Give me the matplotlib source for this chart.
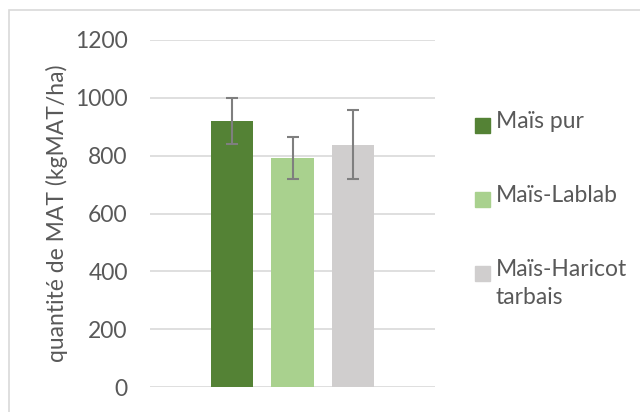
import numpy as np
import matplotlib.pyplot as plt
from matplotlib.patches import Rectangle

categories = ['Maïs pur', 'Maïs-Lablab', 'Maïs-Haricot\ntarbais']
values = [920, 793, 838]
errors = [80, 72, 120]
colors = ['#548235', '#A9D18E', '#D0CECE']
yticks = [0, 200, 400, 600, 800, 1000, 1200]

W, H = 640, 412
txt = '#595959'
fs = 16.5
plt.rcParams['font.family'] = ['Lato', 'DejaVu Sans']

fig = plt.figure(figsize=(W / 100, H / 100), dpi=100)

# outer chart frame
fig.patches.append(Rectangle((9 / W, -0.1), 1.1, 1 - 10 / H + 0.1, transform=fig.transFigure,
                             fill=False, edgecolor='#D9D9D9', linewidth=1.2))

ax = fig.add_axes([150 / W, 1 - 387 / H, 285 / W, (387 - 40) / H])
x = np.arange(len(categories))
ax.bar(x, values, width=0.7, color=colors, zorder=2)
ax.errorbar(x, values, yerr=errors, fmt='none', ecolor='#7F7F7F', elinewidth=1.5,
            capsize=4.3, capthick=1.5, zorder=3)

ax.set_xlim(-1.355, 3.355)
ax.set_ylim(0, 1200)
ax.set_yticks(yticks)
ax.set_xticks([])
ax.yaxis.grid(True, color='#D9D9D9', linewidth=1.2, zorder=0)
ax.set_axisbelow(True)
for s in ax.spines.values():
    s.set_visible(False)
ax.tick_params(axis='y', length=0, pad=16, labelsize=fs, labelcolor=txt)
ax.set_ylabel('quantité de MAT (kgMAT/ha)', fontsize=fs, color=txt, labelpad=5)

# legend drawn at the right
sq_top = [117.5, 191.5, 265.5]
for c, lab, t in zip(colors, categories, sq_top):
    fig.patches.append(Rectangle((475 / W, 1 - (t + 15) / H), 15 / W, 15 / H,
                                 transform=fig.transFigure, color=c))
    fig.text(496 / W, 1 - (t - 7) / H, lab, fontsize=fs, color=txt, va='top',
             ha='left', linespacing=1.45)

fig.savefig('out.png', dpi=100)
